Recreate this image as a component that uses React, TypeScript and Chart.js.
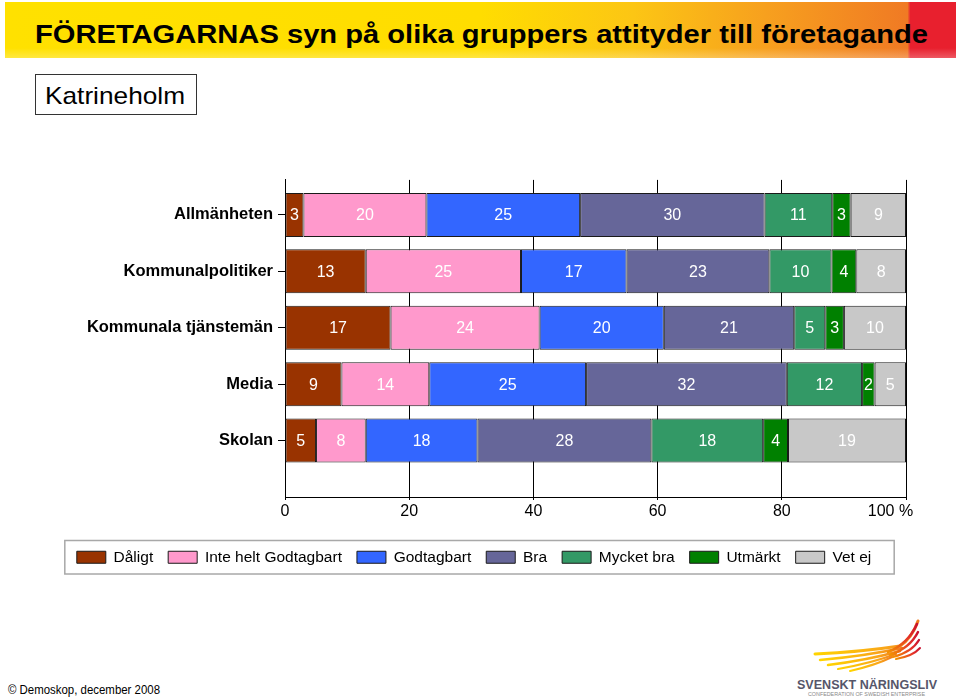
import React, { useEffect, useRef } from 'react';
import { Chart, registerables } from 'chart.js';

Chart.register(...registerables);

const categories = ['Allmänheten', 'Kommunalpolitiker', 'Kommunala tjänstemän', 'Media', 'Skolan'];
const seriesNames = ['Dåligt', 'Inte helt Godtagbart', 'Godtagbart', 'Bra', 'Mycket bra', 'Utmärkt', 'Vet ej'];
const daligt = [3, 13, 17, 9, 5];
const inteHeltGodtagbart = [20, 25, 24, 14, 8];
const godtagbart = [25, 17, 20, 25, 18];
const bra = [30, 23, 21, 32, 28];
const mycketBra = [11, 10, 5, 12, 18];
const utmarkt = [3, 4, 3, 2, 4];
const vetEj = [9, 8, 10, 5, 19];
const seriesColors = ['#993300', '#FF99CC', '#3366FF', '#666699', '#339966', '#008000', '#C8C8C8'];
const xTicks = [0, 20, 40, 60, 80, 100];

const allSeries = [daligt, inteHeltGodtagbart, godtagbart, bra, mycketBra, utmarkt, vetEj];

const FONT = '"Liberation Sans", Arial, Helvetica, sans-serif';

const valueLabels = {
  id: 'valueLabels',
  afterDatasetsDraw(chart: any) {
    const ctx = chart.ctx;
    ctx.save();
    ctx.font = `16px ${FONT}`;
    ctx.fillStyle = '#ffffff';
    ctx.textAlign = 'center';
    ctx.textBaseline = 'middle';
    chart.data.datasets.forEach((ds: any, k: number) => {
      const meta = chart.getDatasetMeta(k);
      meta.data.forEach((el: any, i: number) => {
        const p = el.getCenterPoint();
        ctx.fillText(String(ds.rawValues[i]), p.x, p.y + 1);
      });
    });
    ctx.restore();
  },
};

const legendFrame = {
  id: 'legendFrame',
  afterDraw(chart: any) {
    const lg = chart.legend;
    if (!lg || !lg.legendHitBoxes || !lg.legendHitBoxes.length) return;
    const hb = lg.legendHitBoxes;
    const left = Math.min(...hb.map((h: any) => h.left)) - 12;
    const right = Math.max(...hb.map((h: any) => h.left + h.width)) + 23;
    const top = hb[0].top - 9;
    const bottom = hb[0].top + hb[0].height + 9;
    const ctx = chart.ctx;
    ctx.save();
    ctx.strokeStyle = '#A8A8A8';
    ctx.lineWidth = 1.5;
    ctx.strokeRect(left, top, right - left, bottom - top);
    ctx.restore();
  },
};

export default function App() {
  const canvasRef = useRef<HTMLCanvasElement>(null);

  useEffect(() => {
    const canvas = canvasRef.current;
    if (!canvas) return;
    const rowTotals = categories.map((_, i) => allSeries.reduce((s, arr) => s + arr[i], 0));
    const chart = new Chart(canvas, {
      type: 'bar',
      data: {
        datasets: allSeries.map((arr, k) => ({
          label: seriesNames[k],
          data: arr.map((v, i) => ({ x: (v / rowTotals[i]) * 100, y: i })),
          rawValues: arr,
          backgroundColor: seriesColors[k],
          borderColor: '#1a1a1a',
          borderWidth: 1,
          borderSkipped: false,
          barPercentage: 0.78,
          categoryPercentage: 1,
        })) as any,
      },
      options: {
        indexAxis: 'y',
        responsive: false,
        animation: false,
        devicePixelRatio: 1,
        layout: { padding: { top: 0, right: 54, bottom: 0, left: 42 } },
        scales: {
          x: {
            type: 'linear',
            stacked: true,
            bounds: 'data',
            offset: false,
            min: 0,
            max: 100,
            afterBuildTicks: (scale: any) => {
              scale.ticks = xTicks.map((v) => ({ value: v }));
            },
            afterFit: (scale: any) => {
              scale.height = 37.5;
            },
            ticks: {
              font: { family: FONT, size: 16 },
              color: '#000',
              padding: 2,
              autoSkip: false,
              maxRotation: 0,
              callback: (v: any) => (v === 100 ? '100 %' + '\u00A0'.repeat(7) : String(v)),
            },
            grid: { color: '#000', lineWidth: 1, tickLength: 3, drawTicks: true, offset: false },
            border: { display: true, color: '#000', width: 1 },
          },
          y: {
            type: 'linear',
            stacked: true,
            reverse: true,
            bounds: 'data',
            offset: false,
            min: -0.62,
            max: 5,
            afterBuildTicks: (scale: any) => {
              scale.ticks = categories.map((_, i) => ({ value: i }));
            },
            afterFit: (scale: any) => {
              scale.width = 243;
            },
            ticks: {
              font: { family: FONT, size: 16.5, weight: 'bold' },
              color: '#000',
              padding: 5,
              autoSkip: false,
              callback: (v: any) => categories[v] ?? '',
            },
            grid: { drawOnChartArea: false, drawTicks: true, tickLength: 7, color: '#000', offset: false },
            border: { display: true, color: '#000', width: 1 },
          },
        } as any,
        plugins: {
          legend: {
            position: 'bottom',
            labels: {
              boxWidth: 29,
              boxHeight: 12,
              padding: 15,
              color: '#000',
              font: { family: FONT, size: 15.5 },
            },
          },
          tooltip: { enabled: false },
        },
      } as any,
      plugins: [valueLabels, legendFrame],
    });
    return () => chart.destroy();
  }, []);

  return (
    <div
      style={{
        position: 'absolute',
        left: 0,
        top: 0,
        width: 960,
        height: 698,
        background: '#ffffff',
        overflow: 'hidden',
        fontFamily: FONT,
      }}
    >
      <div
        style={{
          position: 'absolute',
          left: 5,
          top: 2,
          width: 951,
          height: 56,
          background:
            'linear-gradient(90deg, #FFE100 0%, #FFDD00 50%, #FCC614 66%, #F7A01E 80%, #F07A24 94.9%, #E8202E 95.2%, #E8202E 100%)',
        }}
      />
      <div
        style={{
          position: 'absolute',
          left: 5,
          top: 48,
          width: 951,
          height: 10,
          background: 'linear-gradient(180deg, rgba(255,255,255,0) 0%, rgba(255,255,255,0.25) 100%)',
        }}
      />
      <svg width={960} height={60} style={{ position: 'absolute', left: 0, top: 0 }}>
        <text
          x={35}
          y={43}
          fontSize={25}
          fontWeight="bold"
          fontFamily={FONT}
          fill="#000"
          textLength={893}
          lengthAdjust="spacingAndGlyphs"
        >
          FÖRETAGARNAS syn på olika gruppers attityder till företagande
        </text>
      </svg>
      <div
        style={{
          position: 'absolute',
          left: 35,
          top: 74,
          width: 162,
          height: 41,
          boxSizing: 'border-box',
          border: '1.5px solid #333',
          background: '#fff',
        }}
      />
      <svg width={200} height={40} style={{ position: 'absolute', left: 0, top: 76 }}>
        <text
          x={45}
          y={28}
          fontSize={24}
          fontFamily={FONT}
          fill="#000"
          textLength={140}
          lengthAdjust="spacingAndGlyphs"
        >
          Katrineholm
        </text>
      </svg>
      <canvas
        ref={canvasRef}
        width={960}
        height={410}
        style={{ position: 'absolute', left: 0, top: 165, width: 960, height: 410 }}
      />
      <svg width={200} height={20} style={{ position: 'absolute', left: 0, top: 680 }}>
        <text
          x={8}
          y={14}
          fontSize={12}
          fontFamily={FONT}
          fill="#000"
          textLength={152}
          lengthAdjust="spacingAndGlyphs"
        >
          © Demoskop, december 2008
        </text>
      </svg>
      <svg width={170} height={90} style={{ position: 'absolute', left: 790, top: 608 }}>
        <defs>
          <linearGradient id="wingY" x1="0" y1="0" x2="1" y2="0">
            <stop offset="0%" stopColor="#FFD400" />
            <stop offset="70%" stopColor="#F9A51A" />
            <stop offset="100%" stopColor="#F07B1E" />
          </linearGradient>
          <linearGradient id="wingR" x1="0" y1="1" x2="1" y2="0">
            <stop offset="0%" stopColor="#F39200" />
            <stop offset="60%" stopColor="#E5332A" />
            <stop offset="100%" stopColor="#C8102E" />
          </linearGradient>
        </defs>
        <path d="M25,46 Q70,44 110,38 Q122,30 128,13" stroke="url(#wingY)" strokeWidth={3} fill="none" strokeLinecap="round" />
        <path d="M30,52 Q75,48 112,40" stroke="url(#wingY)" strokeWidth={2.5} fill="none" strokeLinecap="round" />
        <path d="M38,57 Q78,52 110,43" stroke="url(#wingY)" strokeWidth={2.5} fill="none" strokeLinecap="round" />
        <path d="M48,61 Q82,55 106,46" stroke="url(#wingY)" strokeWidth={2.2} fill="none" strokeLinecap="round" />
        <path d="M60,63 Q86,57 102,49" stroke="url(#wingY)" strokeWidth={2} fill="none" strokeLinecap="round" />
        <path d="M98,44 Q118,36 127,16" stroke="url(#wingR)" strokeWidth={2.5} fill="none" strokeLinecap="round" />
        <path d="M100,47 Q120,40 128,24" stroke="url(#wingR)" strokeWidth={2.5} fill="none" strokeLinecap="round" />
        <path d="M103,49 Q122,44 129,32" stroke="url(#wingR)" strokeWidth={2.3} fill="none" strokeLinecap="round" />
        <path d="M106,51 Q123,48 130,40" stroke="url(#wingR)" strokeWidth={2} fill="none" strokeLinecap="round" />
        <text
          x={7}
          y={81}
          fontSize={13.5}
          fontWeight="bold"
          fontFamily={FONT}
          fill="#56566A"
          textLength={140}
          lengthAdjust="spacingAndGlyphs"
        >
          SVENSKT NÄRINGSLIV
        </text>
        <text
          x={18}
          y={88}
          fontSize={4.5}
          fontFamily={FONT}
          fill="#888"
          textLength={117}
          lengthAdjust="spacingAndGlyphs"
        >
          CONFEDERATION OF SWEDISH ENTERPRISE
        </text>
      </svg>
    </div>
  );
}
